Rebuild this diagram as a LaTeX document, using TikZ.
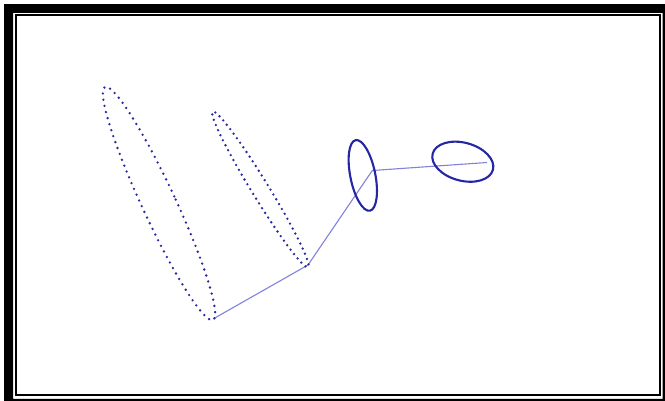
\documentclass[tikz,border=0pt]{standalone}
\definecolor{dotblue}{RGB}{40,40,160}
\definecolor{solidblue}{RGB}{38,38,165}
\definecolor{linkblue}{RGB}{130,130,220}
\tikzset{
  frameband/.style={fill=black, even odd rule},
  innerframe/.style={draw=black, line width=1.9pt},
  dotring/.style={draw=dotblue, line width=2.6pt, line cap=round, dash pattern=on 0pt off #1},
  solidring/.style={draw=solidblue, line width=2.1pt},
  linkline/.style={draw=linkblue, line width=1.1pt}
}
\begin{document}
\begin{tikzpicture}[x=1pt,y=-1pt]
\path[use as bounding box, clip] (0,0) rectangle (665,400);
\fill[white] (0,0) rectangle (665,400);
% frames
\path[frameband] (4,4) rectangle (672,408) (13,12.8) rectangle (662.7,398.8);
\draw[innerframe] (15.9,15.4) rectangle (659.8,395);
% joint points
\coordinate (P1) at (213,319);
\coordinate (P2) at (308,265);
\coordinate (P3) at (372.3,170.5);
\coordinate (P4) at (487,162.5);
% links
\draw[linkline] (P1) -- (P2) -- (P3) -- (P4);
% ellipses
\begin{scope}[shift={(159,203.5)}, rotate=24.9]
  \path[dotring=6.3pt] (0,0) ellipse [x radius=16.8pt, y radius=128.4pt];
\end{scope}
\begin{scope}[shift={(260.4,189.4)}, rotate=31.5]
  \path[dotring=5.6pt] (0,0) ellipse [x radius=8.5pt, y radius=91.2pt];
\end{scope}
\begin{scope}[shift={(362.8,175.4)}, rotate=11.4]
  \path[solidring] (0,0) ellipse [x radius=12.5pt, y radius=36pt];
\end{scope}
\begin{scope}[shift={(462.8,161.7)}, rotate=-15]
  \path[solidring] (0,0) ellipse [x radius=31.2pt, y radius=19pt];
\end{scope}
\end{tikzpicture}
\end{document}
